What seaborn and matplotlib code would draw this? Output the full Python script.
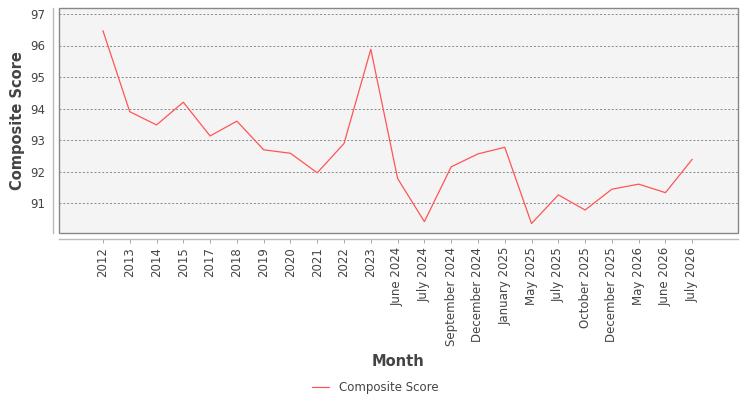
import numpy as np
import pandas as pd
import matplotlib
matplotlib.use("Agg")
import matplotlib.pyplot as plt
import seaborn as sns
from matplotlib.patches import Rectangle

months = ["2012", "2013", "2014", "2015", "2017", "2018", "2019", "2020", "2021",
          "2022", "2023", "June 2024", "July 2024", "September 2024", "December 2024",
          "January 2025", "May 2025", "July 2025", "October 2025", "December 2025",
          "May 2026", "June 2026", "July 2026"]
scores = [96.47, 93.90, 93.48, 94.20, 93.13, 93.60, 92.69, 92.58, 91.96,
          92.89, 95.88, 91.78, 90.41, 92.15, 92.56, 92.77, 90.35, 91.26,
          90.78, 91.44, 91.60, 91.33, 92.39]
yticks = [91, 92, 93, 94, 95, 96, 97]

sns.set_theme(style="white")
plt.rcParams["font.family"] = ["DejaVu Sans"]

df = pd.DataFrame({"idx": np.arange(len(months)), "score": scores})

fig = plt.figure(figsize=(7.5, 4), dpi=100)
ax = fig.add_axes([0.0787, 0.4175, 0.905, 0.5625])
ax.set_facecolor("#f4f4f4")

# spines first: set_position resets tick formatting
for s in ["top", "right"]:
    ax.spines[s].set_visible(False)
for s in ["left", "bottom"]:
    ax.spines[s].set_position(("outward", 4))
    ax.spines[s].set_color("#bbbbbb")
    ax.spines[s].set_linewidth(1.0)

sns.lineplot(data=df, x="idx", y="score", ax=ax, color="#ff5555", linewidth=0.9,
             label="Composite Score", legend=False)

ax.set_xlim(-1.64, 23.7)
ax.set_ylim(90.05, 97.19)
ax.set_yticks(yticks)
ax.set_xticks(list(df["idx"]))
ax.set_xticklabels(months, rotation=90, fontsize=8.5, color="#444444")
ax.tick_params(axis="y", labelsize=8.5, labelcolor="#444444", length=0, pad=6)
ax.tick_params(axis="x", length=3, width=0.6, color="#999999", pad=3, bottom=True)
ax.grid(axis="y", linestyle=(0, (2, 2)), color="#888888", linewidth=0.7)

ax.add_patch(Rectangle((0, 0), 1, 1, transform=ax.transAxes, fill=False,
                       edgecolor="#888888", linewidth=1.0, clip_on=False, zorder=5))

ax.set_xlabel("Month", fontsize=10.5, fontweight="bold", color="#444444", labelpad=6)
ax.set_ylabel("Composite Score", fontsize=10.5, fontweight="bold", color="#444444", labelpad=4)

handles, labels = ax.get_legend_handles_labels()
fig.legend(handles, labels, loc="center", bbox_to_anchor=(0.5, 0.032), frameon=False,
           fontsize=8.5, handlelength=1.5, labelcolor="#444444")

fig.savefig("out.png", dpi=100)
